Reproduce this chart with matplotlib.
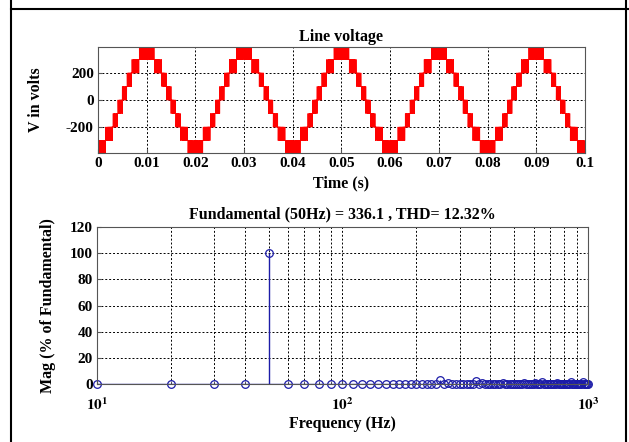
import numpy as np
import matplotlib.pyplot as plt
from matplotlib.lines import Line2D
from matplotlib.ticker import FixedLocator, NullFormatter

plt.rcParams['font.family'] = ['Liberation Serif', 'DejaVu Serif']
plt.rcParams['font.weight'] = 'bold'
plt.rcParams['mathtext.fontset'] = 'stix'
plt.rcParams['axes.unicode_minus'] = False

# ---- line voltage: first quarter cycle (trough -> zero crossing), 0.25 ms carrier slots
# lower level of each slot and the share of the slot spent one level (100 V) higher
slot_ms = 0.25
q1_lower = [-400, -400, -400, -400, -400, -400, -300, -300, -300, -300,
            -300, -300, -200, -200, -200, -200, -100, -100, -100, -100]
q1_duty = [0.60, 0.62, 0.67, 0.73, 0.81, 0.91, 0.03, 0.17, 0.33, 0.50,
           0.69, 0.90, 0.11, 0.34, 0.58, 0.82, 0.08, 0.34, 0.60, 0.87]
n_periods = 5
period_ms = 20.0

# ---- harmonic spectrum (10 Hz resolution)
freq = list(range(10, 1010, 10))
mag = [0.0] * len(freq)
mag_peaks = {50: 100.0, 250: 3.0, 350: 2.2, 450: 0.8, 550: 0.6, 650: 1.2,
             750: 0.9, 850: 1.5, 950: 1.8, 270: 0.6, 370: 0.5, 610: 0.5}
for f, m in mag_peaks.items():
    mag[freq.index(f)] = m

title_top = 'Line voltage'
title_bot = 'Fundamental (50Hz) = 336.1 , THD= 12.32%'


def quarter_segments():
    segs = []
    for i, (lo, d) in enumerate(zip(q1_lower, q1_duty)):
        s = i * slot_ms
        a = s + slot_ms * (1 - d) / 2
        b = s + slot_ms * (1 + d) / 2
        segs += [(s, a, lo), (a, b, lo + 100), (b, s + slot_ms, lo)]
    return segs


q1 = quarter_segments()
half = q1 + [(10 - t1, 10 - t0, -v) for t0, t1, v in q1]
period = half + [(20 - t1, 20 - t0, v) for t0, t1, v in half]
allsegs = []
for k in range(n_periods):
    allsegs += [(t0 + k * period_ms, t1 + k * period_ms, v) for t0, t1, v in period]
allsegs.sort()
t = np.array([s[0] for s in allsegs] + [allsegs[-1][1]]) / 1000.0
v = np.array([s[2] for s in allsegs] + [allsegs[-1][2]])

fig = plt.figure(figsize=(6.29, 4.42), dpi=100)
grid_kw = dict(color='black', linestyle=(0, (2, 2)), linewidth=0.7)
spine_col = '#555555'
tfs = 11.5
lfs = 11

# top axes
ax1 = fig.add_axes([0.1558, 0.6538, 0.7742, 0.2398])
ax1.plot(t, v, color='red', linewidth=0.6, drawstyle='steps-post')
ax1.set_xlim(0, 0.1)
ax1.set_ylim(-392, 392)
ax1.set_xticks(np.arange(0, 0.101, 0.01))
ax1.set_xticklabels(['0'] + ['%.2f' % x for x in np.arange(0.01, 0.095, 0.01)] + ['0.1'])
ax1.set_yticks([-200, 0, 200])
ax1.grid(True, **grid_kw)
ax1.set_title(title_top, fontsize=tfs, fontweight='bold', pad=4)
ax1.set_xlabel('Time (s)', fontsize=tfs, fontweight='bold', labelpad=4)
ax1.set_ylabel('V in volts', fontsize=tfs, fontweight='bold', labelpad=16)

# bottom axes
ax2 = fig.add_axes([0.1542, 0.1312, 0.7806, 0.3552])
blue = '#1c1ca8'
ml, sl, bl = ax2.stem(freq, mag, basefmt=' ')
plt.setp(sl, color=blue, linewidth=1.0)
plt.setp(ml, color=blue, markerfacecolor='none', markersize=5.5, markeredgewidth=0.9,
         clip_on=False)
ax2.axhline(0, color=blue, linewidth=1.0)
ax2.set_xscale('log')
ax2.set_xlim(10, 1000)
ax2.set_ylim(0, 120)
ax2.set_yticks(range(0, 121, 20))
ax2.xaxis.set_major_locator(FixedLocator([10, 100, 1000]))
ax2.set_xticklabels([r'$\mathbf{10^{1}}$', r'$\mathbf{10^{2}}$', r'$\mathbf{10^{3}}$'])
ax2.xaxis.set_minor_locator(FixedLocator([k * 10 ** e for e in (1, 2) for k in range(2, 10)]))
ax2.xaxis.set_minor_formatter(NullFormatter())
ax2.grid(True, which='both', **grid_kw)
ax2.set_title(title_bot, fontsize=tfs, fontweight='bold', pad=6)
ax2.set_xlabel('Frequency (Hz)', fontsize=tfs, fontweight='bold', labelpad=2)
ax2.set_ylabel('Mag (% of Fundamental)', fontsize=tfs, fontweight='bold', labelpad=10)

for ax in (ax1, ax2):
    ax.tick_params(direction='in', labelsize=lfs, length=3, color=spine_col, pad=3)
    ax.tick_params(which='minor', direction='in', length=2, color=spine_col)
    for sp in ax.spines.values():
        sp.set_color(spine_col)
    for lab in ax.get_xticklabels() + ax.get_yticklabels():
        lab.set_fontweight('bold')
ax2.tick_params(axis='x', pad=9)

# page frame
fig.add_artist(Line2D([11 / 629, 11 / 629], [0, 1], color='black', linewidth=1.5))
fig.add_artist(Line2D([626 / 629, 626 / 629], [0, 1], color='black', linewidth=1.5))
fig.add_artist(Line2D([11 / 629, 1], [1 - 9 / 442, 1 - 9 / 442], color='black', linewidth=1.5))

fig.savefig('out.png', dpi=100)
